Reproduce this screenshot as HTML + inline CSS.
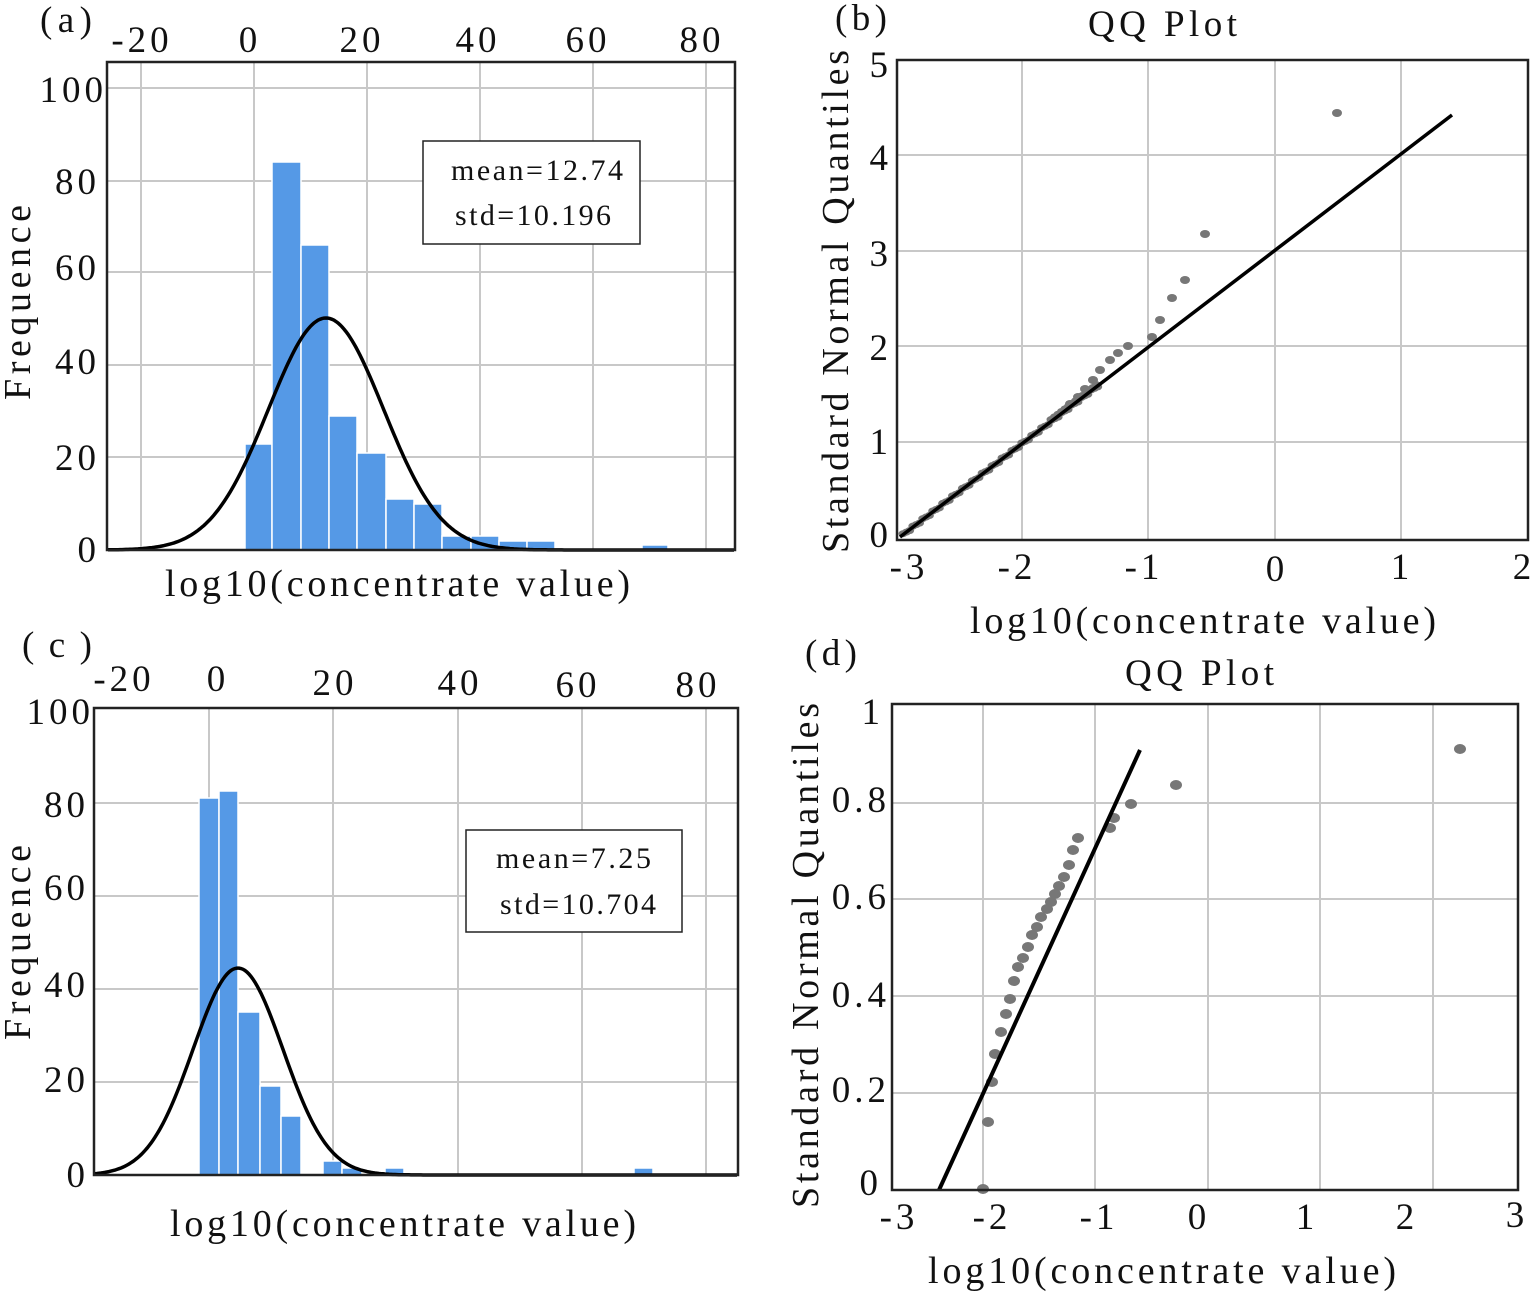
<!DOCTYPE html>
<html><head><meta charset="utf-8"><style>
html,body{margin:0;padding:0;background:#fff}
svg{display:block}
text{font-family:"Liberation Serif",serif;fill:#111}
.t{letter-spacing:4px}
</style></head><body>
<svg id="s" width="1535" height="1292" viewBox="0 0 1535 1292" xmlns="http://www.w3.org/2000/svg">
<g font-size="37">
<!-- Panel a -->
<g stroke="#c8c8c8" stroke-width="2">
<line x1="141" y1="62" x2="141" y2="550"/><line x1="254" y1="62" x2="254" y2="550"/><line x1="367" y1="62" x2="367" y2="550"/><line x1="480" y1="62" x2="480" y2="550"/><line x1="593" y1="62" x2="593" y2="550"/><line x1="706" y1="62" x2="706" y2="550"/>
<line x1="107" y1="88" x2="735" y2="88"/><line x1="107" y1="181" x2="735" y2="181"/><line x1="107" y1="272" x2="735" y2="272"/><line x1="107" y1="365" x2="735" y2="365"/><line x1="107" y1="457" x2="735" y2="457"/>
</g>
<g fill="#5599e6" stroke="#fff" stroke-width="1.5">
<rect x="245" y="444" width="27" height="106"/><rect x="272" y="162" width="29" height="388"/><rect x="301" y="245" width="28" height="305"/><rect x="329" y="416" width="28" height="134"/><rect x="357" y="453" width="29" height="97"/><rect x="386" y="499" width="28" height="51"/><rect x="414" y="504" width="28" height="46"/><rect x="442" y="536" width="29" height="14"/><rect x="471" y="536" width="28" height="14"/><rect x="499" y="541" width="28" height="9"/><rect x="527" y="541" width="28" height="9"/><rect x="642" y="545" width="26" height="5"/>
</g>
<path id="ga" fill="none" stroke="#000" stroke-width="3.5"/>
<rect x="107" y="62" width="628" height="488" fill="none" stroke="#222" stroke-width="2.5"/>
<rect x="423" y="141" width="217" height="103" fill="#fff" stroke="#222" stroke-width="1.5"/>
<text x="451" y="180" font-size="30" textLength="172" lengthAdjust="spacing">mean=12.74</text>
<text x="455" y="225" font-size="30" textLength="156" lengthAdjust="spacing">std=10.196</text>
<g text-anchor="middle" class="t"><text x="142" y="52">-20</text><text x="250" y="52">0</text><text x="362" y="52">20</text><text x="478" y="52">40</text><text x="588" y="52">60</text><text x="702" y="52">80</text></g>
<g text-anchor="end" class="t"><text x="107" y="102">100</text><text x="100" y="194">80</text><text x="100" y="280">60</text><text x="100" y="374">40</text><text x="100" y="470">20</text><text x="100" y="562">0</text></g>
<text x="40" y="32" textLength="52" lengthAdjust="spacing">(a)</text>
<text x="165" y="596" font-size="38" textLength="465" lengthAdjust="spacing">log10(concentrate value)</text>
<text transform="translate(30,400) rotate(-90)" font-size="38" textLength="195" lengthAdjust="spacing">Frequence</text>

<!-- Panel b -->
<g stroke="#c8c8c8" stroke-width="2">
<line x1="1022" y1="60" x2="1022" y2="540"/><line x1="1148" y1="60" x2="1148" y2="540"/><line x1="1275" y1="60" x2="1275" y2="540"/><line x1="1401" y1="60" x2="1401" y2="540"/>
<line x1="897" y1="155" x2="1528" y2="155"/><line x1="897" y1="251" x2="1528" y2="251"/><line x1="897" y1="346" x2="1528" y2="346"/><line x1="897" y1="442" x2="1528" y2="442"/>
</g>
<g id="qb" fill="#777"></g>
<line x1="900" y1="537" x2="1452" y2="115" stroke="#000" stroke-width="3.5"/>
<rect x="897" y="60" width="631" height="480" fill="none" stroke="#222" stroke-width="2.5"/>
<g text-anchor="end"><text x="888" y="547">0</text><text x="888" y="454">1</text><text x="888" y="360">2</text><text x="888" y="266">3</text><text x="888" y="170">4</text><text x="888" y="77">5</text></g>
<g text-anchor="middle" class="t"><text x="909" y="579">-3</text><text x="1017" y="579">-2</text><text x="1144" y="579">-1</text><text x="1277" y="581">0</text><text x="1402" y="579">1</text><text x="1524" y="579">2</text></g>
<text x="835" y="30" textLength="52" lengthAdjust="spacing">(b)</text>
<text x="1088" y="36" textLength="149" lengthAdjust="spacing">QQ Plot</text>
<text x="970" y="633" font-size="38" textLength="466" lengthAdjust="spacing">log10(concentrate value)</text>
<text transform="translate(848,553) rotate(-90)" font-size="38" textLength="503" lengthAdjust="spacing">Standard Normal Quantiles</text>

<!-- Panel c -->
<g stroke="#c8c8c8" stroke-width="2">
<line x1="209" y1="708" x2="209" y2="1175"/><line x1="333" y1="708" x2="333" y2="1175"/><line x1="458" y1="708" x2="458" y2="1175"/><line x1="582" y1="708" x2="582" y2="1175"/><line x1="706" y1="708" x2="706" y2="1175"/>
<line x1="94" y1="803" x2="738" y2="803"/><line x1="94" y1="896" x2="738" y2="896"/><line x1="94" y1="989" x2="738" y2="989"/><line x1="94" y1="1082" x2="738" y2="1082"/>
</g>
<g fill="#5599e6" stroke="#fff" stroke-width="1.5">
<rect x="199" y="798" width="20" height="377"/><rect x="219" y="791" width="19" height="384"/><rect x="238" y="1012" width="22" height="163"/><rect x="260" y="1086" width="21" height="89"/><rect x="281" y="1116" width="20" height="59"/><rect x="323" y="1161" width="19" height="14"/><rect x="342" y="1168" width="20" height="7"/><rect x="385" y="1168" width="19" height="7"/><rect x="634" y="1168" width="19" height="7"/>
</g>
<path id="gc" fill="none" stroke="#000" stroke-width="3.5"/>
<rect x="94" y="708" width="644" height="467" fill="none" stroke="#222" stroke-width="2.5"/>
<rect x="466" y="830" width="216" height="102" fill="#fff" stroke="#222" stroke-width="1.5"/>
<text x="496" y="868" font-size="30" textLength="155" lengthAdjust="spacing">mean=7.25</text>
<text x="500" y="914" font-size="30" textLength="156" lengthAdjust="spacing">std=10.704</text>
<g text-anchor="middle" class="t"><text x="124" y="691">-20</text><text x="218" y="691">0</text><text x="335" y="695">20</text><text x="460" y="695">40</text><text x="578" y="697">60</text><text x="698" y="697">80</text></g>
<g text-anchor="end" class="t"><text x="94" y="724">100</text><text x="89" y="817">80</text><text x="89" y="900">60</text><text x="89" y="997">40</text><text x="89" y="1092">20</text><text x="89" y="1187">0</text></g>
<text x="22" y="657" textLength="70" lengthAdjust="spacing">( c )</text>
<text x="170" y="1236" font-size="38" textLength="466" lengthAdjust="spacing">log10(concentrate value)</text>
<text transform="translate(30,1040) rotate(-90)" font-size="38" textLength="195" lengthAdjust="spacing">Frequence</text>

<!-- Panel d -->
<g stroke="#c8c8c8" stroke-width="2">
<line x1="983" y1="704" x2="983" y2="1190"/><line x1="1095" y1="704" x2="1095" y2="1190"/><line x1="1208" y1="704" x2="1208" y2="1190"/><line x1="1320" y1="704" x2="1320" y2="1190"/><line x1="1433" y1="704" x2="1433" y2="1190"/>
<line x1="892" y1="803" x2="1518" y2="803"/><line x1="892" y1="899" x2="1518" y2="899"/><line x1="892" y1="996" x2="1518" y2="996"/><line x1="892" y1="1093" x2="1518" y2="1093"/>
</g>
<g id="qd" fill="#777"></g>
<line x1="939" y1="1190" x2="1140" y2="750" stroke="#000" stroke-width="4"/>
<rect x="892" y="704" width="626" height="486" fill="none" stroke="#222" stroke-width="2.5"/>
<g text-anchor="end" class="t"><text x="882" y="1195">0</text><text x="890" y="1102">0.2</text><text x="890" y="1007">0.4</text><text x="890" y="909">0.6</text><text x="890" y="812">0.8</text><text x="884" y="724">1</text></g>
<g text-anchor="middle" class="t"><text x="899" y="1229">-3</text><text x="992" y="1229">-2</text><text x="1099" y="1229">-1</text><text x="1199" y="1229">0</text><text x="1307" y="1229">1</text><text x="1407" y="1229">2</text><text x="1517" y="1227">3</text></g>
<text x="805" y="665" textLength="52" lengthAdjust="spacing">(d)</text>
<text x="1125" y="685" textLength="149" lengthAdjust="spacing">QQ Plot</text>
<text x="928" y="1283" font-size="38" textLength="468" lengthAdjust="spacing">log10(concentrate value)</text>
<text transform="translate(818,1208) rotate(-90)" font-size="38" textLength="505" lengthAdjust="spacing">Standard Normal Quantiles</text>
</g>
</svg>
<script>
function g(id,x0,x1,mu,sig,amp,base){var d="";for(var x=x0;x<=x1;x+=2){var y=base-amp*Math.exp(-0.5*Math.pow((x-mu)/sig,2));d+=(d?"L":"M")+x+" "+y.toFixed(1);}document.getElementById(id).setAttribute("d",d);}
g("ga",108,734,326,57.6,232,550);
g("gc",95,737,238,45,207,1175);
var ns="http://www.w3.org/2000/svg";
function dot(gid,x,y,r){var c=document.createElementNS(ns,"ellipse");c.setAttribute("cx",x);c.setAttribute("cy",y);c.setAttribute("rx",r+1);c.setAttribute("ry",r);document.getElementById(gid).appendChild(c);}
for(var i=0;i<60;i++){var x=903+i*3.3;var y=537-(x-900)*0.7645+ (i%3-1);dot("qb",x,y,3.5);}
for(var i=0;i<14;i++){var x=1100-14*3.5+i*3.5;var y=537-(x-900)*0.7645-2;dot("qb",x,y,3.5);}
[[1337,113],[1205,234],[1185,280],[1172,298],[1160,320],[1152,337],[1128,346],[1118,353],[1110,360],[1100,370],[1093,380],[1085,389],[1078,397],[1070,404]].forEach(function(p){dot("qb",p[0],p[1],4);});
[[1460,749],[1176,785],[1131,804],[1114,818],[1110,828],[1078,838],[1073,850],[1069,865],[1064,877],[1059,886],[1055,894],[1051,902],[1047,909],[1041,917],[1037,927],[1032,935],[1028,947],[1023,958],[1018,967],[1014,981],[1010,999],[1006,1014],[1001,1032],[995,1054],[992,1082],[988,1122],[983,1189]].forEach(function(p){dot("qd",p[0],p[1],5);});
</script>
</body></html>
